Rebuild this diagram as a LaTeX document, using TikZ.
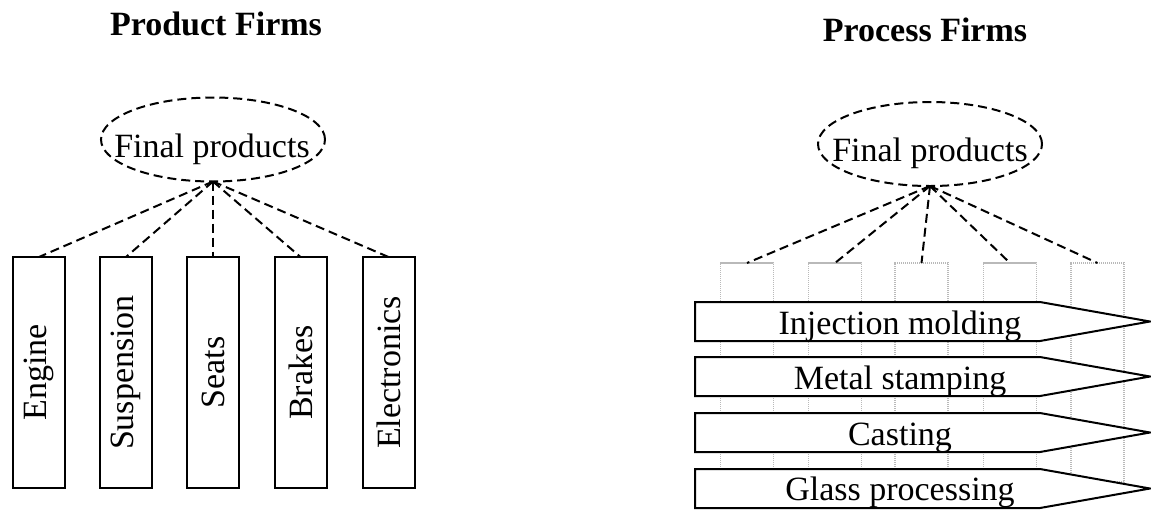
\documentclass[tikz,border=0pt]{standalone}
\usepackage{fontspec}
\setmainfont{Liberation Serif}
\usetikzlibrary{shapes.geometric}
\begin{document}
\begin{tikzpicture}[x=0.5pt,y=-0.5pt,
  every node/.style={font=\fontsize{17}{20}\selectfont, inner sep=0pt, outer sep=0pt},
  title/.style={font=\fontsize{17}{20}\selectfont\bfseries, anchor=base},
  txt/.style={anchor=base},
  goal/.style={ellipse, draw, line width=1pt, dash pattern=on 4.5pt off 2.5pt,
    minimum width=112pt, minimum height=42pt},
  link/.style={line width=1pt, dash pattern=on 4.5pt off 2.5pt},
  part/.style={draw, line width=1pt, minimum width=26pt, minimum height=115.5pt},
  cell/.style={draw=gray!55, line width=0.8pt, dash pattern=on 0.6pt off 0.4pt,
    minimum width=26.5pt, minimum height=109.5pt},
  stage/.style={draw, fill=white, line width=1pt, line join=miter}
]
\useasboundingbox (0,0) rectangle (1151,510);

% ---------- product firms ----------
\node[title] (prodtitle) at (216,35) {Product Firms};
\node[goal] (goalL) at (213,139.5) {};
\node[txt] (goalLtext) at (212,157) {Final products};

\node[part] (engine) at (39,372.5) {};
\node[part] (suspension) at (126,372.5) {};
\node[part] (seats) at (213,372.5) {};
\node[part] (brakes) at (300.5,372.5) {};
\node[part] (electronics) at (388.5,372.5) {};

\node[rotate=90] (engineT) at (engine) {Engine};
\node[rotate=90] (suspensionT) at (suspension) {Suspension};
\node[rotate=90] (seatsT) at (seats) {Seats};
\node[rotate=90] (brakesT) at (brakes) {Brakes};
\node[rotate=90] (electronicsT) at (electronics) {Electronics};

\foreach \p in {engine,suspension,seats,brakes,electronics}
  \draw[link] (goalL.south) -- (\p.north);

% ---------- process firms ----------
\node[title] (proctitle) at (925,41) {Process Firms};
\node[goal] (goalR) at (930,144) {};
\node[txt] (goalRtext) at (930,161) {Final products};

\node[cell] (c1) at (747,372.5) {};
\node[cell] (c2) at (835,372.5) {};
\node[cell] (c3) at (921.5,372.5) {};
\node[cell] (c4) at (1010,372.5) {};
\node[cell] (c5) at (1097.5,372.5) {};

\foreach \c in {c1,c2,c3,c4,c5}
  \draw[link] (goalR.south) -- (\c.north);

% process stages crossing the product columns
\draw[stage] (695,302) -- (1040,302) -- (1150,321.5) -- (1040,341) -- (695,341) -- cycle;
\draw[stage] (695,357) -- (1040,357) -- (1150,376.5) -- (1040,396) -- (695,396) -- cycle;
\draw[stage] (695,413) -- (1040,413) -- (1150,432.5) -- (1040,452) -- (695,452) -- cycle;
\draw[stage] (695,469) -- (1040,469) -- (1150,488.5) -- (1040,508) -- (695,508) -- cycle;

\node[txt] (injection) at (900,334) {Injection molding};
\node[txt] (stamping) at (900,389) {Metal stamping};
\node[txt] (casting) at (900,445) {Casting};
\node[txt] (glass) at (900,500) {Glass processing};
\end{tikzpicture}
\end{document}
